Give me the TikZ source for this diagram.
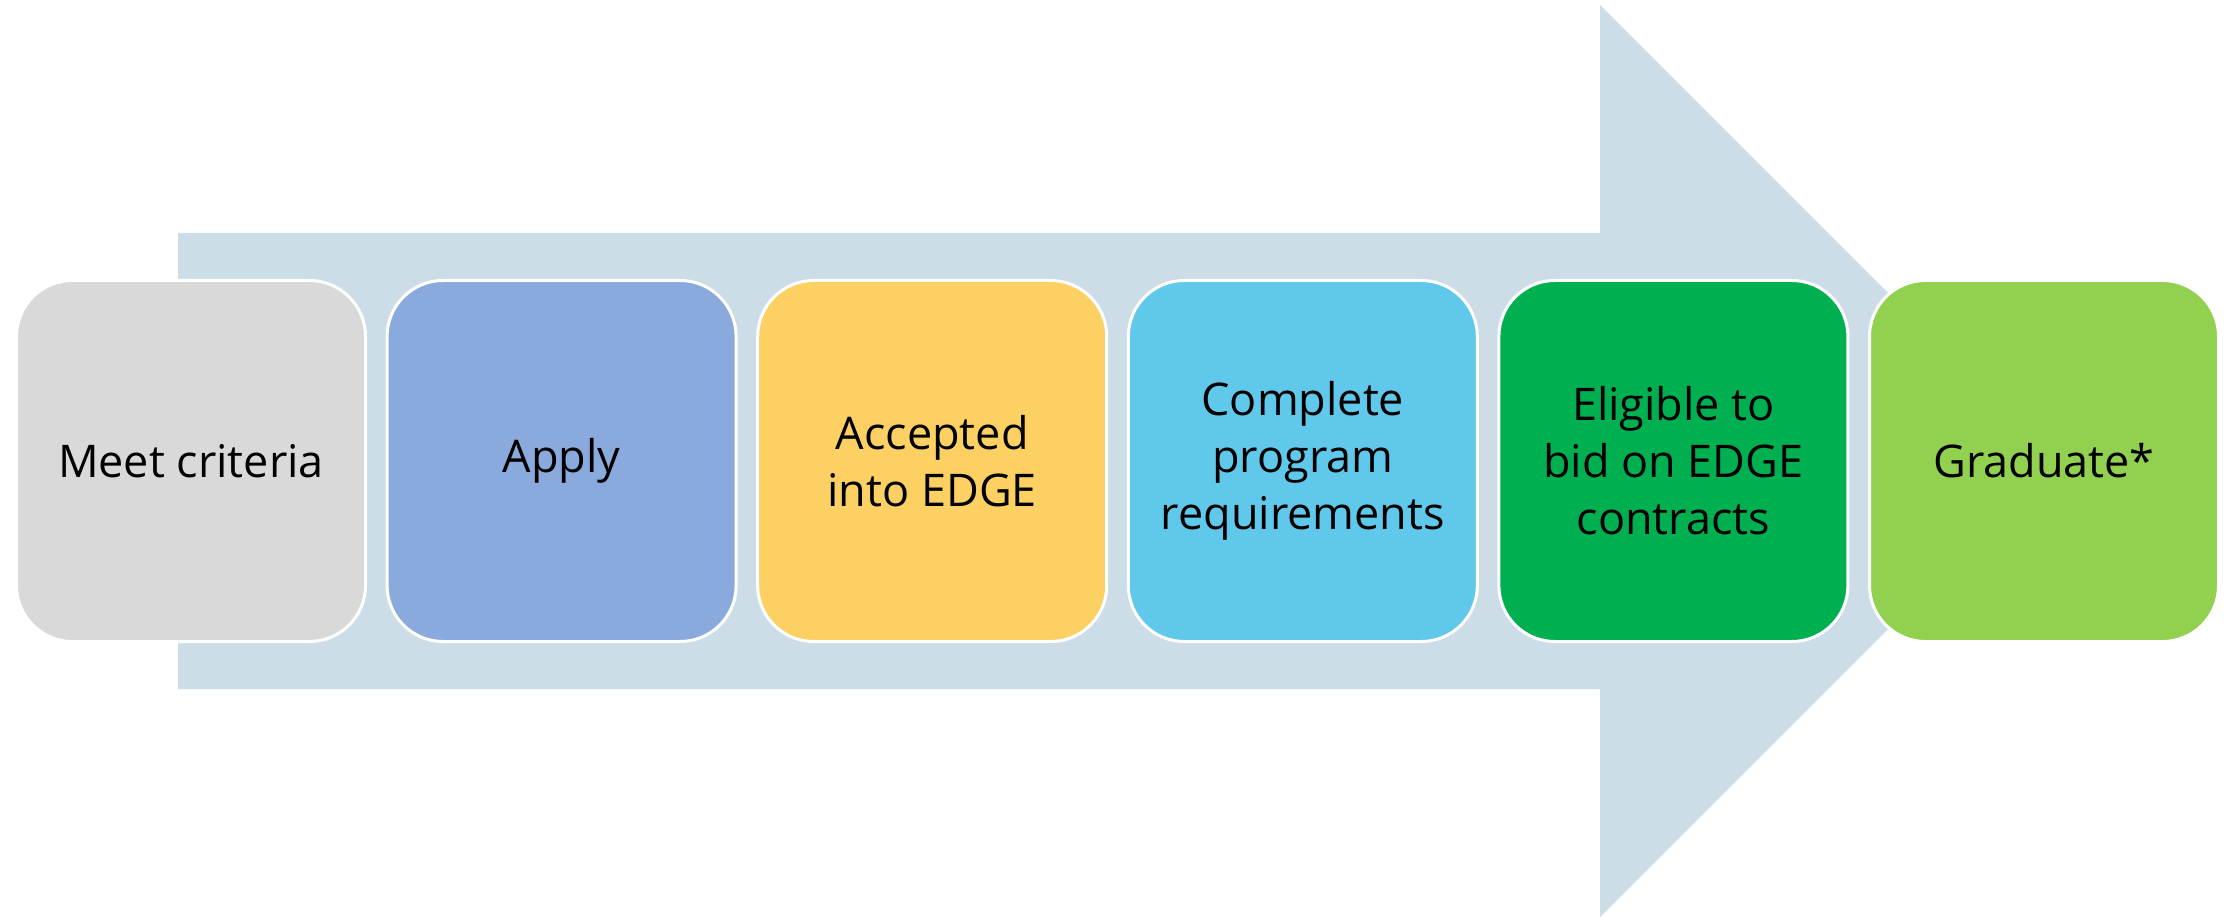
\documentclass[tikz,border=0pt]{standalone}
\usepackage{fontspec}
\setmainfont{Open Sans}
\definecolor{arrowbg}{HTML}{CDDDE7}
\definecolor{cgray}{HTML}{D9D9D9}
\definecolor{cblue}{HTML}{8AA9DC}
\definecolor{cyellow}{HTML}{FCD062}
\definecolor{ccyan}{HTML}{60C8EA}
\definecolor{cgreen}{HTML}{00B050}
\definecolor{clime}{HTML}{92D050}
\begin{document}
\begin{tikzpicture}[x=1pt,y=-1pt,
  stepbox/.style={draw=white, line width=3pt, rounded corners=56pt,
    minimum width=349pt, minimum height=361pt, inner sep=0pt,
    align=center, font=\fontsize{45}{57}\selectfont, text=black}]
\useasboundingbox (0,0) rectangle (2233,917);
\fill[white] (0,0) rectangle (2233,917);
% big arrow
\fill[arrowbg] (178,233) -- (1600,233) -- (1600,5) -- (2056,461)
  -- (1600,917) -- (1600,689) -- (178,689) -- cycle;
% step boxes
\node[stepbox, fill=cgray]   (s1) at (191,461)    {Meet criteria};
\node[stepbox, fill=cblue]   (s2) at (561.6,461)  {Apply};
\node[stepbox, fill=cyellow] (s3) at (932.2,461)  {Accepted\\into EDGE};
\node[stepbox, fill=ccyan]   (s4) at (1302.8,461) {Complete\\program\\requirements};
\node[stepbox, fill=cgreen]  (s5) at (1673.4,461) {Eligible to\\bid on EDGE\\contracts};
\node[stepbox, fill=clime]   (s6) at (2044,461)   {Graduate*};
\end{tikzpicture}
\end{document}
